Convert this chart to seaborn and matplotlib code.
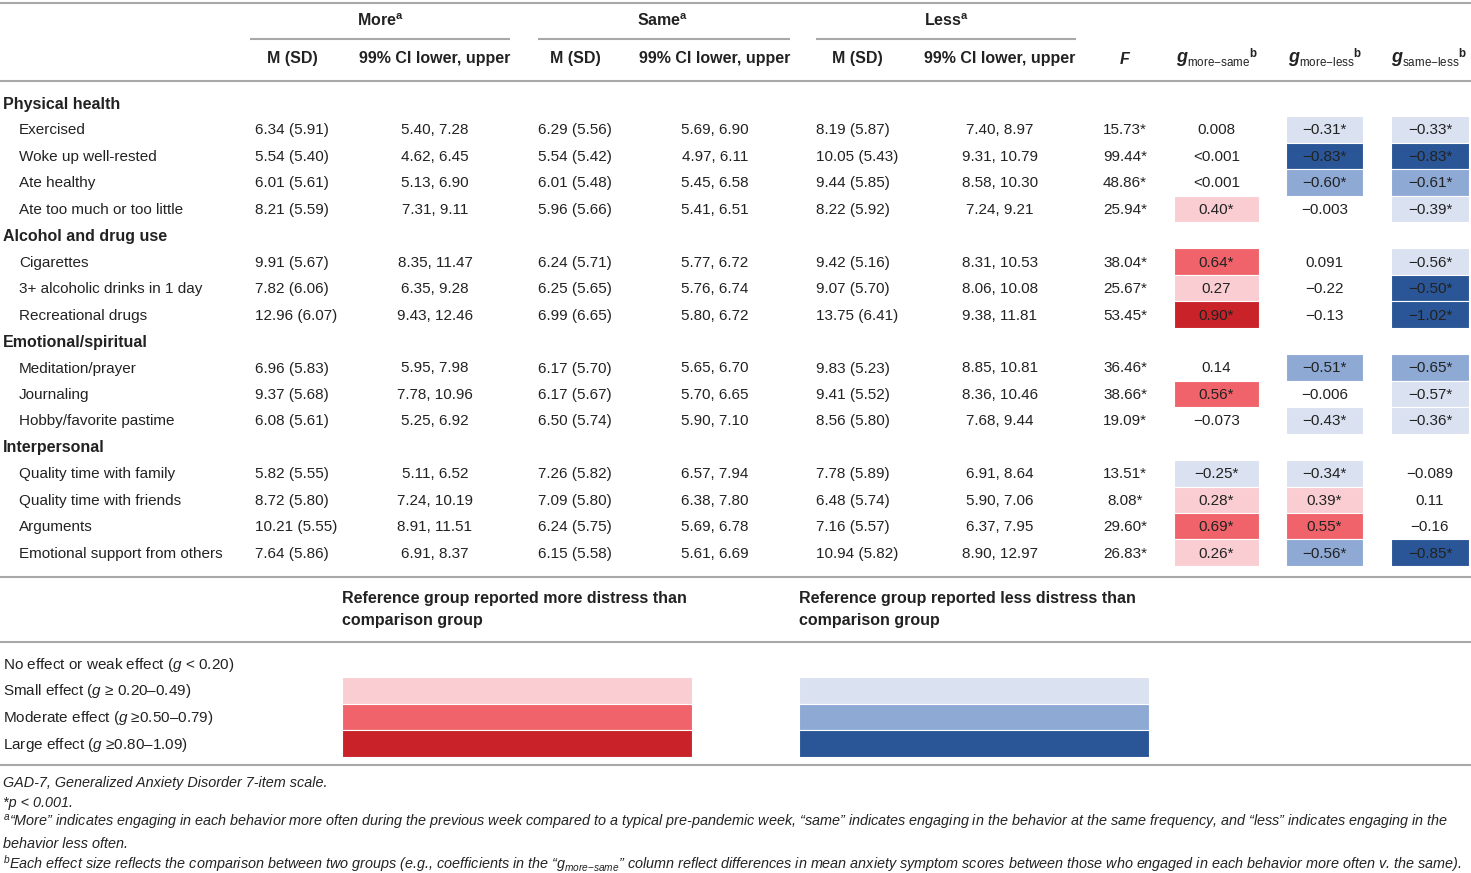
import matplotlib
matplotlib.use('Agg')
import matplotlib.pyplot as plt
import seaborn as sns
from matplotlib import font_manager

# --- data ------------------------------------------------------------------
section_names = ['Physical health', 'Alcohol and drug use', 'Emotional/spiritual', 'Interpersonal']
section_sizes = [4, 3, 3, 4]
behaviors = ['Exercised', 'Woke up well-rested', 'Ate healthy', 'Ate too much or too little',
             'Cigarettes', '3+ alcoholic drinks in 1 day', 'Recreational drugs',
             'Meditation/prayer', 'Journaling', 'Hobby/favorite pastime',
             'Quality time with family', 'Quality time with friends', 'Arguments',
             'Emotional support from others']
more_msd = ['6.34 (5.91)', '5.54 (5.40)', '6.01 (5.61)', '8.21 (5.59)', '9.91 (5.67)', '7.82 (6.06)',
            '12.96 (6.07)', '6.96 (5.83)', '9.37 (5.68)', '6.08 (5.61)', '5.82 (5.55)', '8.72 (5.80)',
            '10.21 (5.55)', '7.64 (5.86)']
more_ci = ['5.40, 7.28', '4.62, 6.45', '5.13, 6.90', '7.31, 9.11', '8.35, 11.47', '6.35, 9.28',
           '9.43, 12.46', '5.95, 7.98', '7.78, 10.96', '5.25, 6.92', '5.11, 6.52', '7.24, 10.19',
           '8.91, 11.51', '6.91, 8.37']
same_msd = ['6.29 (5.56)', '5.54 (5.42)', '6.01 (5.48)', '5.96 (5.66)', '6.24 (5.71)', '6.25 (5.65)',
            '6.99 (6.65)', '6.17 (5.70)', '6.17 (5.67)', '6.50 (5.74)', '7.26 (5.82)', '7.09 (5.80)',
            '6.24 (5.75)', '6.15 (5.58)']
same_ci = ['5.69, 6.90', '4.97, 6.11', '5.45, 6.58', '5.41, 6.51', '5.77, 6.72', '5.76, 6.74',
           '5.80, 6.72', '5.65, 6.70', '5.70, 6.65', '5.90, 7.10', '6.57, 7.94', '6.38, 7.80',
           '5.69, 6.78', '5.61, 6.69']
less_msd = ['8.19 (5.87)', '10.05 (5.43)', '9.44 (5.85)', '8.22 (5.92)', '9.42 (5.16)', '9.07 (5.70)',
            '13.75 (6.41)', '9.83 (5.23)', '9.41 (5.52)', '8.56 (5.80)', '7.78 (5.89)', '6.48 (5.74)',
            '7.16 (5.57)', '10.94 (5.82)']
less_ci = ['7.40, 8.97', '9.31, 10.79', '8.58, 10.30', '7.24, 9.21', '8.31, 10.53', '8.06, 10.08',
           '9.38, 11.81', '8.85, 10.81', '8.36, 10.46', '7.68, 9.44', '6.91, 8.64', '5.90, 7.06',
           '6.37, 7.95', '8.90, 12.97']
f_values = ['15.73*', '99.44*', '48.86*', '25.94*', '38.04*', '25.67*', '53.45*', '36.46*', '38.66*',
            '19.09*', '13.51*', '8.08*', '29.60*', '26.83*']
g_more_same = ['0.008', '<0.001', '<0.001', '0.40*', '0.64*', '0.27', '0.90*', '0.14', '0.56*',
               '\u22120.073', '\u22120.25*', '0.28*', '0.69*', '0.26*']
g_more_less = ['\u22120.31*', '\u22120.83*', '\u22120.60*', '\u22120.003', '0.091', '\u22120.22',
               '\u22120.13', '\u22120.51*', '\u22120.006', '\u22120.43*', '\u22120.34*', '0.39*',
               '0.55*', '\u22120.56*']
g_same_less = ['\u22120.33*', '\u22120.83*', '\u22120.61*', '\u22120.39*', '\u22120.56*', '\u22120.50*',
               '\u22121.02*', '\u22120.65*', '\u22120.57*', '\u22120.36*', '\u22120.089', '0.11',
               '\u22120.16', '\u22120.85*']
# shading level of each g cell as printed (+ red, - blue, 0 none)
lvl_more_same = [0, 0, 0, 1, 2, 1, 3, 0, 2, 0, -1, 1, 2, 1]
lvl_more_less = [-1, -3, -2, 0, 0, 0, 0, -2, 0, -1, -1, 1, 2, -2]
lvl_same_less = [-1, -3, -2, -1, -1, -3, -3, -2, -1, -1, 0, 0, 0, -3]
legend_labels = ['No effect or weak effect ($\\mathit{g}$ < 0.20)',
                 'Small effect ($\\mathit{g}$ \u2265 0.20\u20130.49)',
                 'Moderate effect ($\\mathit{g}$ \u22650.50\u20130.79)',
                 'Large effect ($\\mathit{g}$ \u22650.80\u20131.09)']

reds = sns.color_palette(['#F9CDD1', '#F0636A', '#C92229'])
blues = sns.color_palette(['#DAE1F0', '#8DA9D4', '#2A5596'])

# --- style -----------------------------------------------------------------
sns.set_theme(style='white')
names = {f.name for f in font_manager.fontManager.ttflist}
base = 'Liberation Sans'
narrow = 'Liberation Sans Narrow' if 'Liberation Sans Narrow' in names else base
plt.rcParams['font.family'] = [base, 'DejaVu Sans']
plt.rcParams['mathtext.fontset'] = 'custom'
plt.rcParams['mathtext.rm'] = base
plt.rcParams['mathtext.it'] = base + ':italic'
plt.rcParams['mathtext.bf'] = base + ':bold'

TXT = '#222222'
LINE = '#A8A8A8'
FS = 11
HFS = 11.5

fig = plt.figure(figsize=(14.71, 8.73), dpi=100)
ax = fig.add_axes([0, 0, 1, 1])
ax.set_xlim(0, 1471)
ax.set_ylim(873, 0)
ax.axis('off')


def t(x, y, s, ha='left', **kw):
    kw.setdefault('fontsize', FS)
    kw.setdefault('color', TXT)
    return ax.text(x, y, s, ha=ha, va='center', **kw)


# rules
for yy in [3, 81, 577, 642, 765]:
    ax.plot([0, 1471], [yy, yy], color=LINE, lw=1.5, solid_capstyle='butt')
for x0, x1 in [(250, 510), (538, 790), (816, 1076)]:
    ax.plot([x0, x1], [39, 39], color=LINE, lw=1.5, solid_capstyle='butt')

# headers
for cx, name in [(380, 'More'), (663, 'Same'), (946, 'Less')]:
    t(cx, 21, name + '$^{\\mathbf{a}}$', ha='center', fontweight='bold', fontsize=HFS)
for cx in [292, 575, 857]:
    t(cx, 59, 'M (SD)', ha='center', fontweight='bold', fontsize=HFS)
for cx in [435, 715, 1000]:
    t(cx, 59, '99% CI lower, upper', ha='center', fontweight='bold', fontsize=HFS)
t(1125, 59, 'F', ha='center', fontweight='bold', fontstyle='italic', fontsize=HFS)
for x0, sub in [(1176, 'more{-}same'), (1288, 'more{-}less'), (1391, 'same{-}less')]:
    t(x0, 58, 'g', fontweight='bold', fontstyle='italic', fontsize=13)
    t(x0 + 11, 58, '$_{\\mathrm{' + sub + '}}{}^{\\mathbf{b}}$', fontsize=12)

# row positions
row_y = []
head_y = []
k = 0
for n in section_sizes:
    head_y.append(103 + 26.45 * k)
    k += 1
    for _ in range(n):
        row_y.append(103 + 26.45 * k)
        k += 1

for y, name in zip(head_y, section_names):
    t(3, y + 1, name, fontweight='bold', fontsize=HFS)

# shaded effect cells
g_cols = [(1174, 85, lvl_more_same, g_more_same), (1286, 77, lvl_more_less, g_more_less),
          (1391, 78, lvl_same_less, g_same_less)]
for left, w, lv, vals in g_cols:
    ys = [y for y, l in zip(row_y, lv) if l != 0]
    cs = [reds[l - 1] if l > 0 else blues[-l - 1] for l in lv if l != 0]
    ax.barh(ys, w, left=left, height=26.45, color=cs, edgecolor='white', linewidth=0.8)
    for y, v in zip(row_y, vals):
        t(left + w / 2, y + 1, v, ha='center')

for i, y in enumerate(row_y):
    yy = y + 1
    t(19, yy, behaviors[i])
    t(255, yy, more_msd[i])
    t(435, yy, more_ci[i], ha='center')
    t(538, yy, same_msd[i])
    t(715, yy, same_ci[i], ha='center')
    t(816, yy, less_msd[i])
    t(1000, yy, less_ci[i], ha='center')
    t(1125, yy, f_values[i], ha='center')

# legend block
t(342, 599, 'Reference group reported more distress than', fontweight='bold', fontsize=HFS)
t(342, 620, 'comparison group', fontweight='bold', fontsize=HFS)
t(799, 599, 'Reference group reported less distress than', fontweight='bold', fontsize=HFS)
t(799, 620, 'comparison group', fontweight='bold', fontsize=HFS)
leg_y = [664, 690.5, 717, 743.5]
for y, lab in zip(leg_y, legend_labels):
    t(3, y + 1, lab)
ax.barh(leg_y[1:], 350, left=342, height=26.5, color=reds, edgecolor='white', linewidth=0.8)
ax.barh(leg_y[1:], 350, left=799, height=26.5, color=blues, edgecolor='white', linewidth=0.8)

# footnotes
notes = ['GAD-7, Generalized Anxiety Disorder 7-item scale.',
         '*p < 0.001.',
         '$^{\\mathit{a}}$\u201cMore\u201d indicates engaging in each behavior more often during the previous week '
         'compared to a typical pre-pandemic week, \u201csame\u201d indicates engaging in the behavior at the same '
         'frequency, and \u201cless\u201d indicates engaging in the',
         'behavior less often.',
         '$^{\\mathit{b}}$Each effect size reflects the comparison between two groups (e.g., coefficients in the '
         '\u201c$\\mathit{g}_{\\mathit{more{-}same}}$\u201d column reflect differences in mean anxiety symptom '
         'scores between those who engaged in each behavior more often v. the same).']
note_y = [783, 803, 823, 843.5, 864]
texts = [t(3, y, s, fontstyle='italic', family=[narrow, 'DejaVu Sans'], fontsize=10.5)
         for y, s in zip(note_y, notes)]
fig.canvas.draw()
r = fig.canvas.get_renderer()
w = texts[2].get_window_extent(r).width
fs = 10.5 * 1453 / w
for tx in texts:
    tx.set_fontsize(fs)

fig.savefig('out.png', dpi=100)
